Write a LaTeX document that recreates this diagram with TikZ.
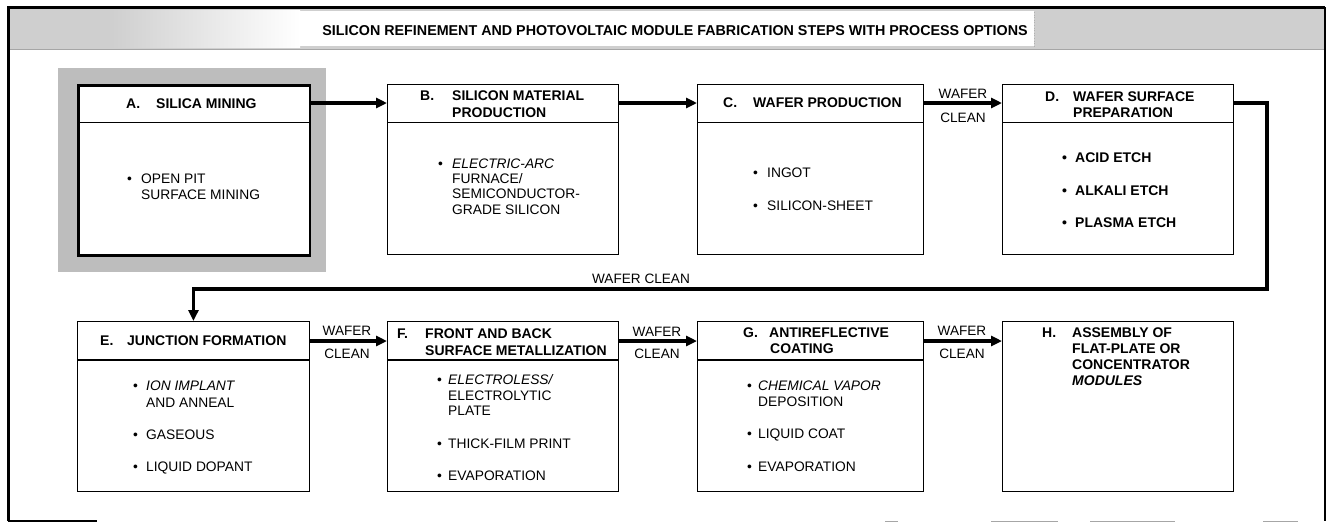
\documentclass[tikz,border=0pt]{standalone}
\usepackage{fontspec}
\setmainfont{Liberation Sans}
\usetikzlibrary{arrows.meta}
\begin{document}
\begin{tikzpicture}[x=1pt,y=-1pt,
  box/.style={draw=black, line width=1.4pt, fill=white, minimum height=170pt, inner sep=0pt, anchor=north west},
  sep/.style={draw=black, line width=1.2pt},
  txt/.style={anchor=base west, inner sep=0pt, font=\fontsize{13.8}{16}\selectfont},
  bt/.style={anchor=base west, inner sep=0pt, font=\fontsize{14}{16}\selectfont\bfseries},
  lbl/.style={anchor=base, inner sep=0pt, font=\fontsize{13.6}{16}\selectfont},
  arr/.style={draw=black, line width=3.4pt, -{Triangle[length=11pt,width=10pt]}},
]
\useasboundingbox (0,0) rectangle (1328,523);
% title bar
\fill[gray!38] (8,7) rectangle (1325,49);
\shade[left color=gray!38, right color=white] (110,10) rectangle (300,47);
\fill[white] (300,11) rectangle (1034,46);
\draw[gray!70, line width=1pt] (8,49) -- (1325,49);
\draw[gray!60, line width=0.6pt, dotted] (1034,12) -- (1034,46);
\node[anchor=base, inner sep=0pt, font=\fontsize{14.3}{16}\selectfont\bfseries] (title) at (675,35)
  {SILICON REFINEMENT AND PHOTOVOLTAIC MODULE FABRICATION STEPS WITH PROCESS OPTIONS};
% frame
\draw[line width=3pt] (8,521) -- (8,7) -- (1325,7);
\draw[line width=1.2pt] (1325,7) -- (1325,521);
\draw[line width=1.5pt] (8,521) -- (97,521);
\draw[gray!70, line width=1pt] (885,521) -- (898,521) (991,521) -- (1058,521) (1090,521) -- (1175,521) (1263,521) -- (1298,521);
% coordinates
\coordinate (r1) at (0,103);
\coordinate (r2) at (0,341);
\coordinate (h1) at (0,122.5);
\coordinate (h2) at (0,360);
\coordinate (lp) at (1267,289);
% halo of A
\fill[gray!52] (58,68) rectangle (326,272);
% boxes row 1
\node[box, line width=2.6pt, minimum width=231.5pt] (A) at (77,84) {};
\node[box, minimum width=231pt] (B) at (387,84) {};
\node[box, minimum width=226pt] (C) at (697,84) {};
\node[box, minimum width=230.5pt] (D) at (1002,84) {};
% boxes row 2
\node[box, minimum width=231.5pt] (E) at (77,321) {};
\node[box, minimum width=231pt] (F) at (387,321) {};
\node[box, minimum width=226pt] (G) at (697,321) {};
\node[box, minimum width=230.5pt] (H) at (1002,321) {};
% header separators
\draw[sep] (A.west |- h1) -- (A.east |- h1);
\draw[sep] (B.west |- h1) -- (B.east |- h1);
\draw[sep] (C.west |- h1) -- (C.east |- h1);
\draw[sep] (D.west |- h1) -- (D.east |- h1);
\draw[sep] (E.west |- h2) -- (E.east |- h2);
\draw[sep] (F.west |- h2) -- (F.east |- h2);
\draw[sep] (G.west |- h2) -- (G.east |- h2);
% connectors
\draw[arr] (A.east |- r1) -- (B.west |- r1);
\draw[arr] (B.east |- r1) -- (C.west |- r1);
\draw[arr] (C.east |- r1) -- (D.west |- r1);
\draw[arr] (D.east |- r1) -| (lp) -| (E.north);
\draw[arr] (E.east |- r2) -- (F.west |- r2);
\draw[arr] (F.east |- r2) -- (G.west |- r2);
\draw[arr] (G.east |- r2) -- (H.west |- r2);
% connector labels
\node[lbl] (cdw) at (963,98) {WAFER};
\node[lbl] (cdc) at (963,122) {CLEAN};
\node[lbl] (dew) at (641,283) {WAFER CLEAN};
\node[lbl] (efw) at (347,335) {WAFER};
\node[lbl] (efc) at (347,358) {CLEAN};
\node[lbl] (fgw) at (657,336) {WAFER};
\node[lbl] (fgc) at (657,358) {CLEAN};
\node[lbl] (ghw) at (962,335) {WAFER};
\node[lbl] (ghc) at (962,358) {CLEAN};
% A texts
\node[bt] (At0) at (126,108) {A.};
\node[bt] (At1) at (156,108) {SILICA MINING};
\node[txt] (Ab1) at (127,183) {\textbullet};
\node[txt] (Ai1) at (141,183) {OPEN PIT};
\node[txt] (Ai2) at (141,199) {SURFACE MINING};
% B texts
\node[bt] (Bt0) at (420,100) {B.};
\node[bt] (Bt1) at (452,100) {SILICON MATERIAL};
\node[bt] (Bt2) at (452,117) {PRODUCTION};
\node[txt] (Bb1) at (438,168) {\textbullet};
\node[txt] (Bi1) at (452,168) {\itshape ELECTRIC-ARC};
\node[txt] (Bi2) at (452,183) {FURNACE/};
\node[txt] (Bi3) at (452,198) {SEMICONDUCTOR-};
\node[txt] (Bi4) at (452,214) {GRADE SILICON};
% C texts
\node[bt] (Ct0) at (723,107) {C.};
\node[bt] (Ct1) at (753,107) {WAFER PRODUCTION};
\node[txt] (Cb1) at (753,177) {\textbullet};
\node[txt] (Ci1) at (767,177) {INGOT};
\node[txt] (Cb2) at (753,210) {\textbullet};
\node[txt] (Ci2) at (767,210) {SILICON-SHEET};
% D texts
\node[bt] (Dt0) at (1045,101) {D.};
\node[bt] (Dt1) at (1073,101) {WAFER SURFACE};
\node[bt] (Dt2) at (1073,117) {PREPARATION};
\node[bt] (Db1) at (1062,162) {\textbullet};
\node[bt] (Di1) at (1075,162) {ACID ETCH};
\node[bt] (Db2) at (1062,195) {\textbullet};
\node[bt] (Di2) at (1075,195) {ALKALI ETCH};
\node[bt] (Db3) at (1062,227) {\textbullet};
\node[bt] (Di3) at (1075,227) {PLASMA ETCH};
% E texts
\node[bt] (Et0) at (100,345) {E.};
\node[bt] (Et1) at (127,345) {JUNCTION FORMATION};
\node[txt] (Eb1) at (133,390) {\textbullet};
\node[txt] (Ei1) at (146,390) {\itshape ION IMPLANT};
\node[txt] (Ei2) at (146,407) {AND ANNEAL};
\node[txt] (Eb2) at (133,439) {\textbullet};
\node[txt] (Ei3) at (146,439) {GASEOUS};
\node[txt] (Eb3) at (133,471) {\textbullet};
\node[txt] (Ei4) at (146,471) {LIQUID DOPANT};
% F texts
\node[bt] (Ft0) at (397,338) {F.};
\node[bt] (Ft1) at (425,338) {FRONT AND BACK};
\node[bt] (Ft2) at (425,355) {SURFACE METALLIZATION};
\node[txt] (Fb1) at (437,384) {\textbullet};
\node[txt] (Fi1) at (448,384) {\itshape ELECTROLESS/};
\node[txt] (Fi2) at (448,400) {ELECTROLYTIC};
\node[txt] (Fi3) at (448,415) {PLATE};
\node[txt] (Fb2) at (437,448) {\textbullet};
\node[txt] (Fi4) at (448,448) {THICK-FILM PRINT};
\node[txt] (Fb3) at (437,480) {\textbullet};
\node[txt] (Fi5) at (448,480) {EVAPORATION};
% G texts
\node[bt] (Gt0) at (743,337) {G.};
\node[bt] (Gt1) at (769,337) {ANTIREFLECTIVE};
\node[bt] (Gt2) at (770,353) {COATING};
\node[txt] (Gb1) at (747,390) {\textbullet};
\node[txt] (Gi1) at (758,390) {\itshape CHEMICAL VAPOR};
\node[txt] (Gi2) at (758,406) {DEPOSITION};
\node[txt] (Gb2) at (747,438) {\textbullet};
\node[txt] (Gi3) at (758,438) {LIQUID COAT};
\node[txt] (Gb3) at (747,471) {\textbullet};
\node[txt] (Gi4) at (758,471) {EVAPORATION};
% H texts
\node[bt] (Ht0) at (1042,337) {H.};
\node[bt] (Ht1) at (1072,337) {ASSEMBLY OF};
\node[bt] (Ht2) at (1072,353) {FLAT-PLATE OR};
\node[bt] (Ht3) at (1072,369) {CONCENTRATOR};
\node[bt] (Ht4) at (1072,385) {\itshape MODULES};
\end{tikzpicture}
\end{document}
